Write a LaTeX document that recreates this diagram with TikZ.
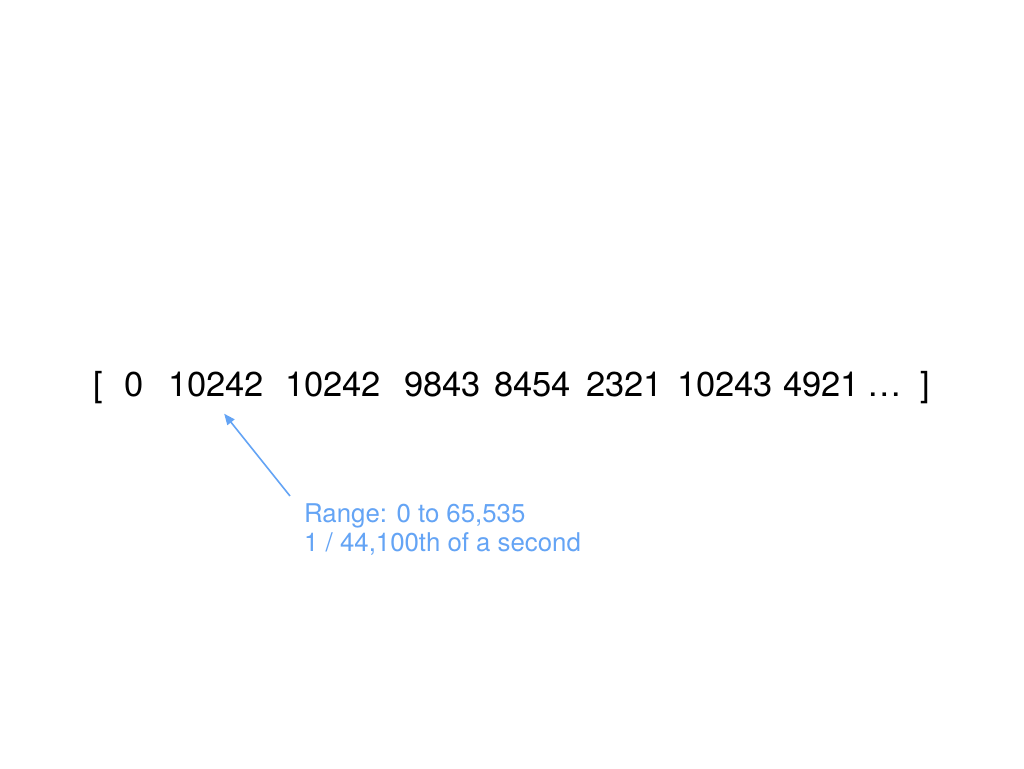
\documentclass[tikz,border=0pt]{standalone}
\usepackage{fontspec}
\setmainfont{TeX Gyre Heros}
\usetikzlibrary{arrows.meta}
\definecolor{annoblue}{RGB}{100,164,245}
\tikzset{
  tok/.style={anchor=base west, inner sep=0pt, font=\fontsize{34.5}{40}\selectfont, text=black},
  lbl/.style={anchor=base west, inner sep=0pt, font=\fontsize{25.8}{29}\selectfont, text=annoblue},
  pointer/.style={draw=annoblue, line width=1.6pt, -{Triangle[length=11pt,width=9pt]}}
}
\begin{document}
\begin{tikzpicture}[x=1pt,y=1pt]
\useasboundingbox[fill=white] (0,0) rectangle (1024,768);
% array tokens (baseline at image y = 397)
\node[tok] (lb) at (93,371) {[};
\node[tok] (n1) at (124,371) {0};
\node[tok] (n2) at (168,371) {10242};
\node[tok] (n3) at (285,371) {10242};
\node[tok] (n4) at (404,371) {9843};
\node[tok] (n5) at (494,371) {8454};
\node[tok] (n6) at (586,371) {2321};
\node[tok] (n7) at (677,371) {10243};
\node[tok] (n8) at (783,371) {4921};
\node[tok] (dots) at (867,371) {…};
\node[tok] (rb) at (920,371) {]};
% annotation
\node[lbl] (l1) at (304,245) {Range: 0 to 65,535};
\node[lbl] (l2) at (304,216) {1 / 44,100th of a second};
\draw[pointer] ([xshift=-14pt,yshift=8pt]l1.north west) -- ([xshift=8pt,yshift=-16pt]n2.south);
\end{tikzpicture}
\end{document}
